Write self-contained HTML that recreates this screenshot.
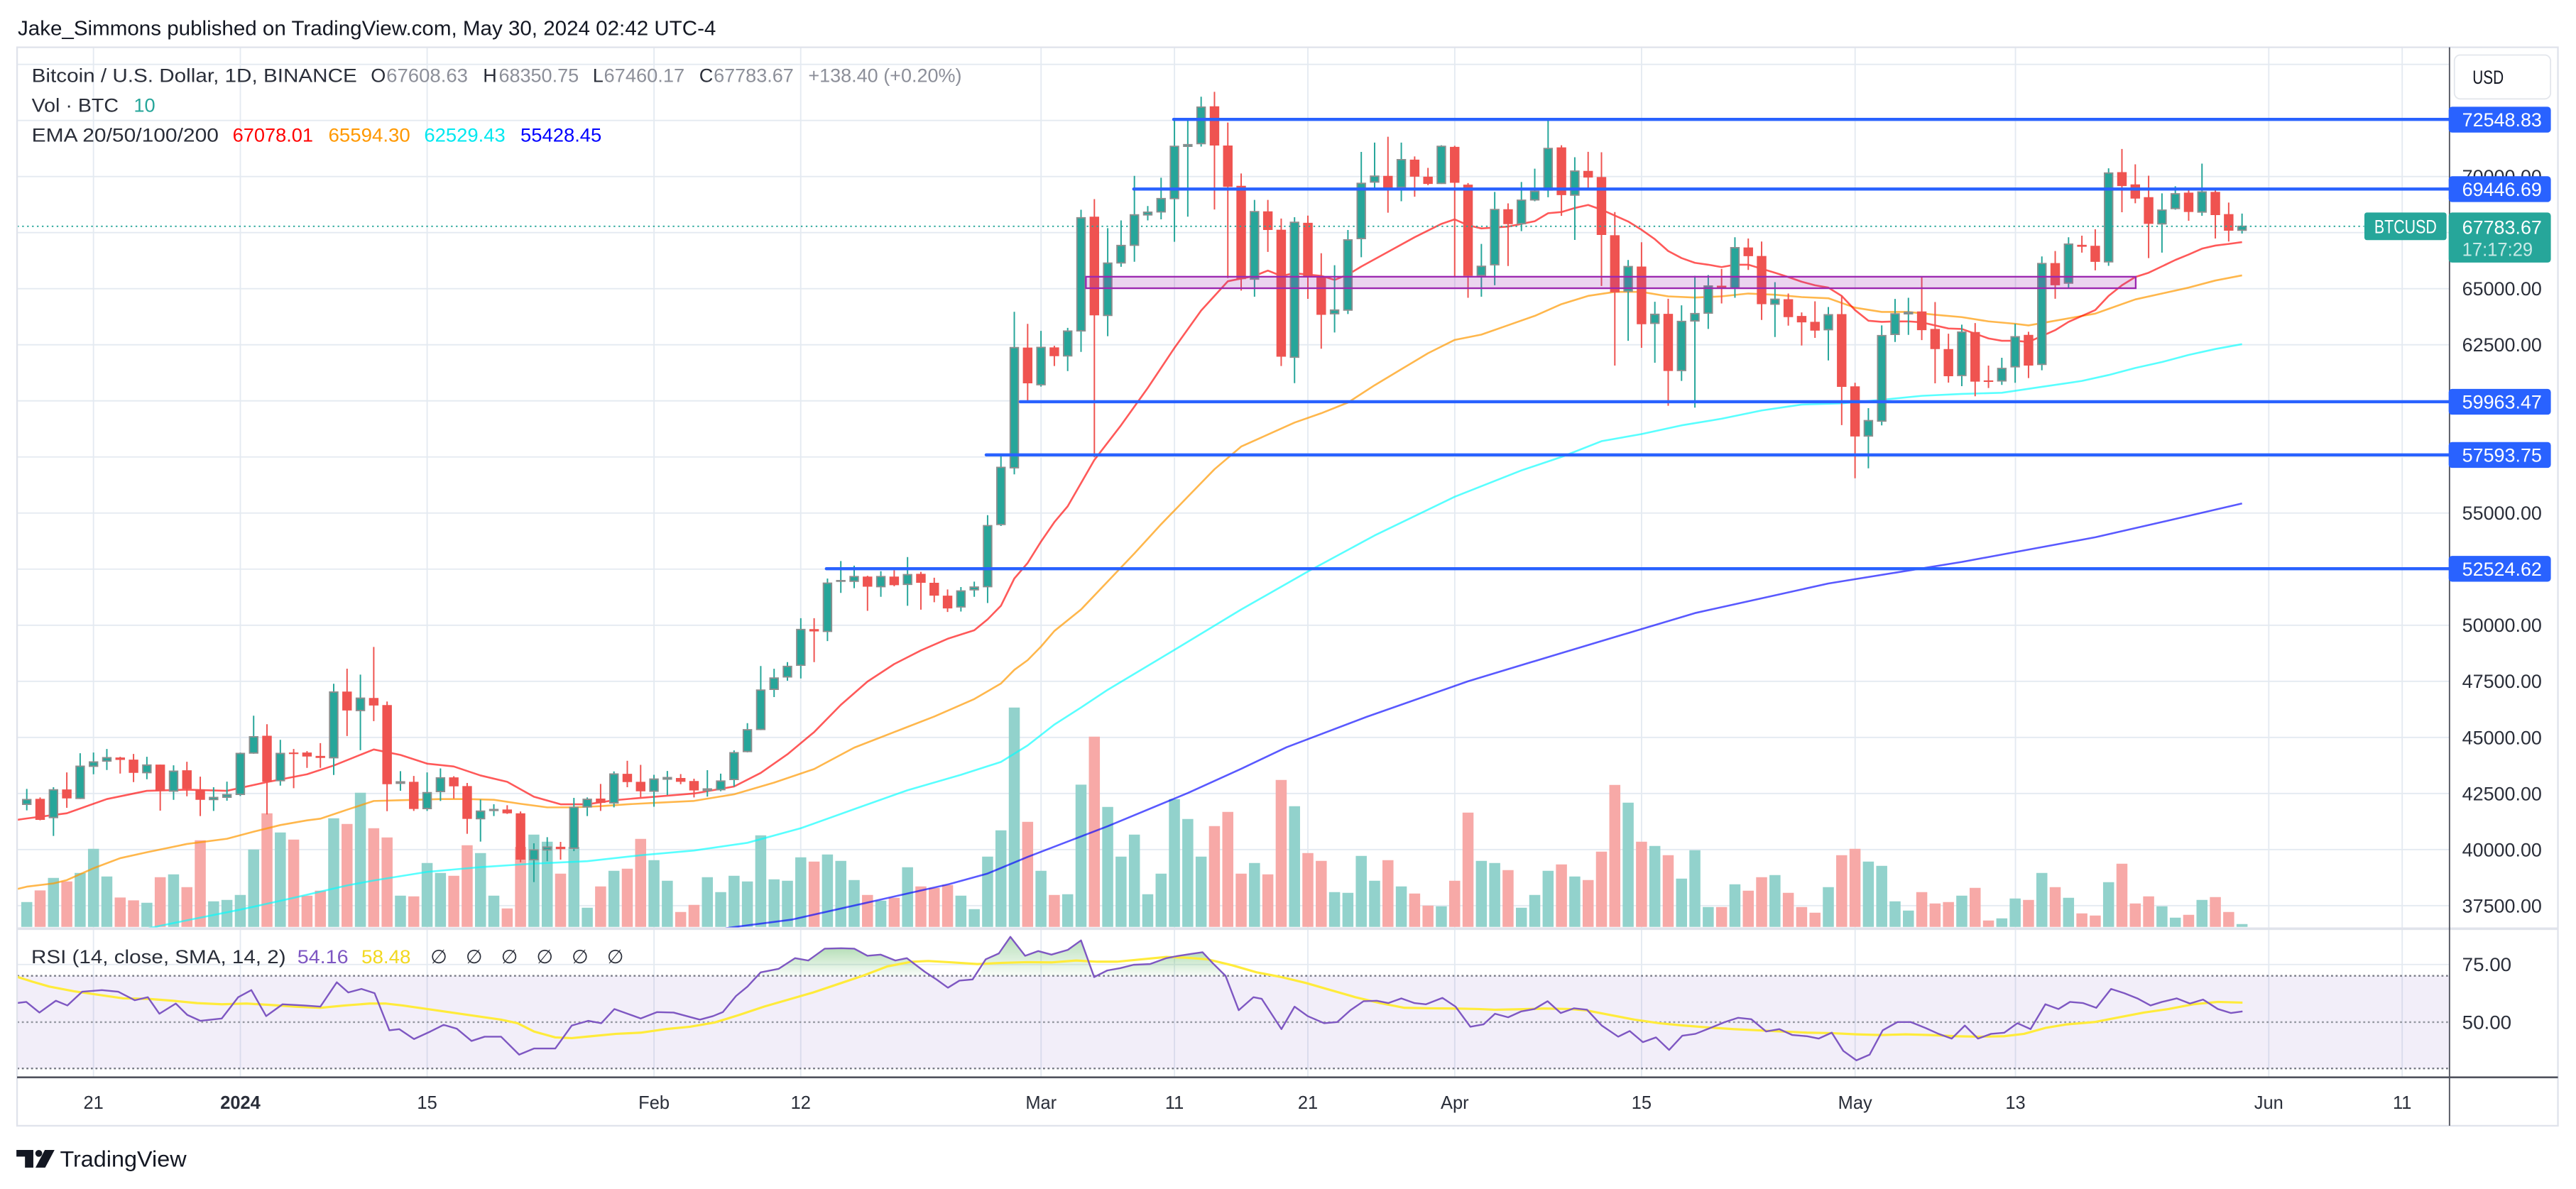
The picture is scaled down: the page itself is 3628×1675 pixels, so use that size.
<!DOCTYPE html>
<html><head><meta charset="utf-8">
<style>
html,body{margin:0;padding:0;background:#fff;overflow:hidden;}
svg{display:block;}
text{font-family:"Liberation Sans",Arial,sans-serif;}
</style></head>
<body>
<svg xmlns="http://www.w3.org/2000/svg" width="3628" height="1675" viewBox="0 0 1568 724" preserveAspectRatio="none">
<defs>
 <clipPath id="cm"><rect x="10.5" y="29" width="1480.5" height="536"/></clipPath>
 <clipPath id="cr"><rect x="10.5" y="566" width="1480.5" height="89.5"/></clipPath>
 <linearGradient id="gob" x1="0" y1="0" x2="0" y2="1">
  <stop offset="0" stop-color="#4caf50" stop-opacity="0.4"/>
  <stop offset="1" stop-color="#4caf50" stop-opacity="0.04"/>
 </linearGradient>
</defs>
<rect x="0" y="0" width="1568" height="724" fill="#fff"/>

<text x="10.8" y="21.3" font-size="12.2" fill="#131722" textLength="425" lengthAdjust="spacingAndGlyphs">Jake_Simmons published on TradingView.com, May 30, 2024 02:42 UTC-4</text>

<!-- grid -->
<path fill="none" stroke="#e4eaf1" stroke-width="0.8" d="M56.9 28.8V656M146.3 28.8V656M260 28.8V656M398.1 28.8V656M487.4 28.8V656M633.7 28.8V656M714.9 28.8V656M796.1 28.8V656M885.5 28.8V656M999.2 28.8V656M1129.2 28.8V656M1226.8 28.8V656M1381 28.8V656M1462.2 28.8V656M10.4 39.2H1491M10.4 73.35H1491M10.4 107.5H1491M10.4 141.65H1491M10.4 175.8H1491M10.4 209.95H1491M10.4 244.1H1491M10.4 278.25H1491M10.4 312.4H1491M10.4 346.55H1491M10.4 380.7H1491M10.4 414.85H1491M10.4 449H1491M10.4 483.15H1491M10.4 517.3H1491M10.4 551.45H1491M10.4 587.3H1491"/>

<!-- RSI band -->
<rect x="10.5" y="594.2" width="1480.5" height="56.4" fill="#7e57c2" fill-opacity="0.1"/>

<!-- volume -->
<g clip-path="url(#cm)">
<g transform="matrix(8.123 0 0 0.14407 16.3 414.85)" fill="none" stroke-width="0.825">
<path stroke="#92d2cc" d="M0 933V1038M2 831V1038M4 810V1038M5 708V1038M6 825V1038M9 936V1038M11 816V1038M14 930V1038M15 924V1038M16 903V1038M17 711V1038M19 639V1038M23 579V1038M25 471V1038M28 906V1038M30 768V1038M31 810V1038M34 726V1038M35 906V1038M38 648V1038M39 678V1038M41 700V1038M42 957V1038M44 801V1038M47 756V1038M48 843V1038M51 828V1038M52 891V1038M53 822V1038M54 846V1038M55 651V1038M56 837V1038M57 843V1038M58 744V1038M60 732V1038M61 759V1038M62 840V1038M64 927V1038M66 786V1038M70 906V1038M71 963V1038M72 741V1038M73 630V1038M74 111V1038M76 801V1038M78 900V1038M79 437V1038M81 531V1038M82 741V1038M83 648V1038M84 900V1038M85 813V1038M86 498V1038M87 582V1038M88 741V1038M92 768V1038M95 528V1038M98 891V1038M99 894V1038M100 738V1038M101 843V1038M103 867V1038M106 951V1038M109 759V1038M110 768V1038M112 957V1038M113 903V1038M114 801V1038M116 825V1038M120 513V1038M122 696V1038M124 834V1038M125 714V1038M126 954V1038M128 858V1038M131 819V1038M135 870V1038M138 762V1038M139 780V1038M140 930V1038M141 969V1038M145 906V1038M148 1002V1038M149 918V1038M151 810V1038M153 915V1038M156 849V1038M160 951V1038M161 999V1038M163 924V1038M166 1026V1038"/>
<path stroke="#f7a9a7" d="M1 884V1038M3 846V1038M7 914V1038M8 926V1038M10 828V1038M12 870V1038M13 672V1038M18 558V1038M20 669V1038M21 906V1038M22 885V1038M24 603V1038M26 621V1038M27 660V1038M29 909V1038M32 822V1038M33 693V1038M36 960V1038M37 700V1038M40 813V1038M43 867V1038M45 792V1038M46 666V1038M49 975V1038M50 945V1038M59 762V1038M63 903V1038M65 915V1038M67 867V1038M68 873V1038M69 861V1038M75 594V1038M77 903V1038M80 234V1038M89 612V1038M90 552V1038M91 813V1038M93 816V1038M94 417V1038M96 726V1038M97 759V1038M102 756V1038M104 897V1038M105 948V1038M107 843V1038M108 555V1038M111 798V1038M115 774V1038M117 840V1038M118 720V1038M119 438V1038M121 678V1038M123 735V1038M127 954V1038M129 885V1038M130 828V1038M132 894V1038M133 954V1038M134 978V1038M136 735V1038M137 708V1038M142 891V1038M143 939V1038M144 933V1038M146 873V1038M147 1011V1038M150 924V1038M152 870V1038M154 981V1038M155 990V1038M157 771V1038M158 939V1038M159 909V1038M162 987V1038M164 912V1038M165 975V1038"/>
</g>
</g>

<!-- EMAs -->
<g clip-path="url(#cm)">
<g transform="matrix(8.123 0 0 -0.01366 16.3 1063.7)" fill="none" stroke-linejoin="round">
<polyline vector-effect="non-scaling-stroke" stroke="#0000ff" stroke-opacity="0.65" stroke-width="2.6" points="-1 32100 53.1 36552 57.3 36874 63.2 37665 69.1 38456 72 38931 75 39671 81 41040 87 42519 91 43600 94.4 44560 100.4 45915 108 47500 115 48760 120 49650 125 50540 130 51200 135 51860 140 52340 145 52820 150 53370 155 53920 160 54600 166 55428"/>
<polyline vector-effect="non-scaling-stroke" stroke="#00ffff" stroke-opacity="0.65" stroke-width="2.6" points="-1 35200 9.6 36552 12 36845 16 37321 20 37848 24 38400 26 38620 30 39005 34 39217 38 39372 42 39481 46 39745 50 39957 54 40300 58 40950 62 41800 66 42643 70 43331 73 43905 75 44640 77 45570 79 46332 81 47122 86 48900 91 50700 96 52394 101 54000 107 55727 112 56900 115 57500 118 58203 121 58521 124 58909 127 59204 130 59573 133 59836 136 59889 139 60047 142 60225 145 60310 148 60362 151 60626 154 60889 156 61152 158 61468 160 61731 162 62047 164 62311 166 62529"/>
<polyline vector-effect="non-scaling-stroke" stroke="#ff9800" stroke-opacity="0.7" stroke-width="2.6" points="-1 38200 0 38345 2 38490 3 38638 5 39166 7 39616 9 39880 12 40248 15 40480 17 40796 19 41091 21 41301 22 41375 24 41775 26 42165 28 42197 31 42249 33 42249 35 42218 37 42039 39 41880 41 41880 43 41933 45 42017 47 42081 50 42168 53 42463 56 42983 59 43589 62 44542 65 45236 68 45929 71 46709 73 47402 74 48008 75 48442 76 49048 77 49741 79 50700 81 51950 83 53200 85 54500 87 55727 89 56952 91 57963 93 58498 95 59033 97 59449 99 59924 101 60697 103 61410 105 62123 107 62718 109 62955 111 63372 113 63788 115 64311 117 64680 119 64859 121 64859 123 64659 125 64606 127 64659 129 64785 131 64733 133 64627 135 64575 137 64154 139 63964 141 63964 143 63838 145 63733 147 63543 149 63437 150 63364 152 63574 154 63785 155 63890 156 64101 158 64522 160 64785 162 65049 164 65365 166 65594"/>
<polyline vector-effect="non-scaling-stroke" stroke="#ff0000" stroke-opacity="0.65" stroke-width="2.6" points="-1 41300 0 41386 3 41617 6 42250 9 42618 12 42670 15 42618 18 43007 21 43355 23 43745 26 44461 28 44218 30 43829 32 43702 34 43302 36 43018 38 42355 40 42017 42 42017 44 42197 46 42302 48 42400 50 42498 53 42809 55 43416 57 44246 59 45236 61 46449 63 47488 65 48268 67 48875 69 49395 71 49776 72 50261 73 50868 74 52081 75 52774 76 53727 77 54594 78 55300 80 57368 82 58914 84 60578 86 62361 88 64025 90 65333 92 65571 93 65809 94 65571 95 65690 97 65571 98 65393 99 65630 100 65987 102 66641 104 67295 106 67889 107 68091 108 67830 109 67687 111 67770 113 68008 114 68365 115 68418 116 68598 117 68734 118 68524 119 68260 120 67997 121 67629 122 67207 123 66681 124 66365 125 66154 126 66070 127 65965 128 66070 129 66070 130 65891 131 65712 132 65522 133 65312 134 65154 135 65048 136 64680 137 64048 138 63574 139 63522 140 63543 141 63543 142 63501 143 63364 144 63227 145 63206 146 62995 147 62784 148 62679 149 62679 150 62627 151 62890 152 63153 153 63522 154 63785 155 64048 156 64680 157 65154 158 65522 159 65712 160 65996 161 66281 162 66523 163 66786 164 66923 165 66997 166 67078"/>
</g>
</g>

<!-- candles -->
<g clip-path="url(#cm)">
<g transform="matrix(8.123 0 0 -0.01366 16.3 1063.7)" fill="none">
<path stroke="#26a69a" stroke-width="0.105" d="M0 42702V41744M2 42776V40606M4 44292V42250M5 44324V43355M6 44482V43544M9 44134V43134M11 43755V42218M14 42776V41722M15 43028V42176M16 44324V42386M17 45966V44271M19 44892V42850M23 47388V43323M25 47799V44429M28 43492V42618M30 43439V41720M31 43618V42165M34 42228V40353M35 42017V41491M38 40280V38550M39 40550V39480M41 42302V39932M42 42323V41491M44 43481V41880M47 43330V41908M48 43503V42429M51 43538V42359M52 43382V42601M53 44421V42809M54 45633V44334M55 48182V45321M56 48060V46795M57 48355V47523M58 50314V47627M60 52081V49291M61 52861V51440M62 52653V51648M64 52410V51266M66 53038V50867M70 51700V50608M71 51942V51266M72 54906V50989M73 57592V54421M74 63969V56725M76 63122V60637M78 63253V61327M79 68519V62183M81 67699V62884M82 68044V65975M83 70029V66201M84 68686V68044M85 69946V68091M86 72585V67093M87 72585V68210M88 73560V71336M92 68959V64643M95 68186V60792M98 66046V63051M99 67616V63871M100 71099V66403M101 71515V69375M103 71515V68899M106 71396V69672M109 66998V64643M110 69316V65155M112 69756V67568M113 70350V68900M114 72525V69078M116 70861V67176M120 66281V62679M122 64417V61700M124 64259V60889M125 65575V59699M126 65607V63206M128 67292V64596M131 65291V62848M135 64185V61805M138 59677V56993M139 63364V58909M140 64543V62627M141 64596V62943M145 63396V60657M148 61921V60710M149 63438V60805M151 66439V61363M153 67292V65049M156 70367V66018M160 69251V66607M161 69566V68524M163 70577V68250M166 68351V67460"/>
<path stroke="#ef5350" stroke-width="0.105" d="M1 42323V41301M3 43439V41859M7 44134V43386M8 44261V43007M10 43787V41733M12 43913V42376M13 43249V41491M18 45587V41565M20 44482V42734M21 44387V43639M22 44745V43639M24 48062V45061M26 49031V45724M27 46598V41712M29 43281V41720M32 43270V42270M33 42966V40701M36 41975V41586M37 41700V39430M40 40340V39550M43 42923V41722M45 43955V42776M46 43776V42333M49 43365V42914M50 43157V42324M59 50314V48355M63 52203V50642M65 52445V51735M67 52376V50694M68 52116V51023M69 51596V50590M75 63432V59999M77 62456V61552M80 68995V57487M89 73774V68531M90 72406V65476M91 70136V64917M93 68959V66641M94 68127V61552M96 68258V64548M97 66581V62325M102 71776V68388M104 70897V69102M105 70386V69613M107 71372V65535M108 69708V64596M111 68804V66010M115 71396V68246M117 71104V69472M118 71083V65122M119 68418V61573M121 67071V62363M123 64553V59783M127 65881V64343M129 67239V65839M130 67102V63606M132 64785V63353M133 63943V62468M134 64438V62806M136 64701V58919M137 60805V56550M142 65554V62710M143 64406V60784M144 62995V60815M146 63469V60204M147 61573V60573M150 63080V61015M152 66681V64553M154 67365V66607M155 67650V65818M157 71230V68408M158 70546V68808M159 70040V66365M162 69472V68029M164 69440V67239M165 68840V67102"/>
<path stroke="#8e8e8e" stroke-width="0.714" d="M0 41988V42257M2 41399V42689M4 42252V43742M5 43684V43931M6 43916V44121M9 43399V43794M11 42578V43521M14 42199V42352M15 42304V42478M16 42431V44311M17 44274V45058M19 43042V44311M23 44063V47049M25 46169V46775M28 42926V43047M30 41799V42563M31 42557V43226M34 41345V41741M35 41714V41814M38 39521V40014M39 39956V40140M41 40030V41909M42 41872V42268M44 42052V43394M47 42572V43168M48 43110V43237M51 42607V42729M52 42641V43082M53 43093V44346M54 44340V45368M55 45327V47136M56 47113V47673M57 47667V48193M58 48187V49840M60 49695V51902M61 51931V52019M62 51931V52197M64 51688V52197M66 51792V52283M70 50787V51555M71 51549V51729M72 51688V54467M73 54461V57066M74 56991V62404M76 60691V62414M78 61976V63139M79 63093V68191M81 63782V66170M82 66124V66955M83 66909V68322M84 68264V68441M85 68395V69047M86 68989V71377M87 71319V71449M88 71438V73125M92 65399V68465M95 61916V67989M98 63854V64078M99 64020V67205M100 67207V69725M101 69726V70046M103 69489V70783M106 69667V71377M109 65566V66028M110 66041V68560M112 67872V68976M113 68930V69368M114 69370V71282M116 69144V70272M120 64862V66015M122 63429V63888M124 61323V63572M125 63535V63919M126 63882V65151M128 64998V66857M131 64282V64561M135 63145V63867M138 58406V59148M139 59069V62940M140 62935V63909M141 63851V63979M145 61102V63098M148 60860V61476M149 61491V62887M151 61597V66152M153 65220V67015M156 66168V70185M160 67863V68532M161 68547V69259M163 68390V69343M166 67579V67813"/>
<path stroke="#26a69a" stroke-width="0.517" d="M0 42046V42199M2 41457V42631M4 42310V43684M5 43742V43873M6 43974V44063M9 43457V43736M11 42636V43463M14 42257V42294M15 42362V42420M16 42489V44253M17 44332V45000M19 43100V44253M23 44121V46991M25 46227V46717M30 41857V42505M31 42615V43168M34 41403V41683M38 39579V39956M39 40014V40082M41 40088V41851M42 41930V42210M44 42110V43336M47 42630V43110M48 43168V43179M52 42699V43024M53 43151V44288M54 44398V45310M55 45385V47078M56 47171V47615M57 47725V48135M58 48245V49782M60 49753V51844M62 51989V52139M64 51746V52139M66 51850V52225M70 50845V51497M71 51607V51671M72 51746V54409M73 54519V57008M74 57049V62346M76 60749V62356M78 62034V63081M79 63151V68133M81 63840V66112M82 66182V66897M83 66967V68264M84 68322V68383M85 68453V68989M86 69047V71319M87 71377V71391M88 71496V73067M92 65457V68407M95 61974V67931M98 63912V64020M99 64078V67147M100 67265V69667M101 69784V69988M103 69547V70725M106 69725V71319M109 65624V65970M110 66099V68502M112 67930V68918M113 68988V69310M114 69428V71224M116 69202V70214M120 64920V65957M122 63487V63830M124 61381V63514M125 63593V63861M126 63940V65093M128 65056V66799M131 64340V64503M135 63203V63809M138 58464V59090M139 59127V62882M140 62993V63851M141 63909V63921M145 61160V63040M148 60918V61418M149 61549V62829M151 61655V66094M153 65278V66957M156 66226V70127M160 67921V68474M161 68605V69201M163 68448V69285M166 67637V67755"/>
<path stroke="#ef5350" stroke-width="0.714" d="M1 42260V41322M3 42681V42281M7 44103V43997M8 44008V43418M10 43787V42607M12 43534V42702M13 42670V42218M18 45071V43018M20 44326V44259M21 44324V44145M22 44176V44082M24 47041V46198M26 46756V46419M27 46440V42912M29 43018V41807M32 43218V42818M33 42829V41364M36 41785V41617M37 41617V39550M40 40122V40017M43 42270V42081M45 43376V43007M46 43018V42597M49 43191V43018M50 43053V42636M59 49828V49724M63 52168V51717M65 52168V51786M67 52289V51890M68 51890V51318M69 51318V50746M75 62375V60781M77 62385V61993M80 68210V63811M89 73132V71384M90 71384V69541M91 69589V65428M93 68448V67616M94 67628V61969M96 67937V65512M97 65535V63836M102 70029V69494M104 70754V69993M105 69993V69672M107 71324V69720M108 69637V65571M111 68543V67877M115 71301V69173M117 70251V69956M118 69977V67397M119 67386V64838M121 65986V63416M123 63880V61331M127 65133V65027M129 66839V66449M130 66460V64311M132 64532V63732M133 63785V63501M134 63522V63132M136 63869V60626M137 60647V58414M142 63985V63153M143 63206V62311M144 62311V61099M146 63069V60858M147 60912V60846M150 62943V61573M152 66144V65154M154 66955V66871M155 66913V66197M157 70198V69577M158 69651V69019M159 69082V67892M162 69282V68419M164 69314V68282M165 68324V67587"/>
</g>
</g>

<!-- drawings -->
<rect x="661" y="168.5" width="639" height="7" fill="#9c27b0" fill-opacity="0.2" stroke="#9c27b0" stroke-width="1"/>
<g stroke="#2962ff" stroke-width="1.9" stroke-linecap="round">
 <line x1="714.4" y1="72.7" x2="1491" y2="72.7"/>
 <line x1="690.1" y1="115.1" x2="1491" y2="115.1"/>
 <line x1="621" y1="244.6" x2="1491" y2="244.6"/>
 <line x1="600.3" y1="277.0" x2="1491" y2="277.0"/>
 <line x1="503" y1="346.3" x2="1491" y2="346.3"/>
</g>
<line x1="10.5" y1="137.8" x2="1439" y2="137.8" stroke="#26a69a" stroke-width="0.8" stroke-dasharray="1 2"/>

<!-- legend -->
<g font-size="11.7">
 <text x="19.3" y="50" fill="#2a2e39" textLength="198" lengthAdjust="spacingAndGlyphs">Bitcoin / U.S. Dollar, 1D, BINANCE</text>
 <text x="225.7" y="50" fill="#2a2e39">O</text>
 <text x="235.2" y="50" fill="#8c8f99" textLength="49.6" lengthAdjust="spacingAndGlyphs">67608.63</text>
 <text x="294" y="50" fill="#2a2e39">H</text>
 <text x="303.6" y="50" fill="#8c8f99" textLength="48.7" lengthAdjust="spacingAndGlyphs">68350.75</text>
 <text x="360.8" y="50" fill="#2a2e39">L</text>
 <text x="367.6" y="50" fill="#8c8f99" textLength="49.1" lengthAdjust="spacingAndGlyphs">67460.17</text>
 <text x="425.6" y="50" fill="#2a2e39">C</text>
 <text x="434.4" y="50" fill="#8c8f99" textLength="48.7" lengthAdjust="spacingAndGlyphs">67783.67</text>
 <text x="492" y="50" fill="#8c8f99" textLength="93.4" lengthAdjust="spacingAndGlyphs">+138.40 (+0.20%)</text>
 <text x="19.3" y="68" fill="#2a2e39" textLength="52.9" lengthAdjust="spacingAndGlyphs">Vol · BTC</text>
 <text x="81.4" y="68" fill="#26a69a" textLength="13.1" lengthAdjust="spacingAndGlyphs">10</text>
 <text x="19.3" y="86.3" fill="#2a2e39" textLength="113.8" lengthAdjust="spacingAndGlyphs">EMA 20/50/100/200</text>
 <text x="141.6" y="86.3" fill="#ff0000" textLength="49" lengthAdjust="spacingAndGlyphs">67078.01</text>
 <text x="199.9" y="86.3" fill="#ff9800" textLength="49.8" lengthAdjust="spacingAndGlyphs">65594.30</text>
 <text x="258.2" y="86.3" fill="#00e8f0" textLength="49.4" lengthAdjust="spacingAndGlyphs">62529.43</text>
 <text x="316.8" y="86.3" fill="#0000ff" textLength="49.4" lengthAdjust="spacingAndGlyphs">55428.45</text>
</g>

<!-- RSI -->
<line x1="10.5" y1="594.2" x2="1491" y2="594.2" stroke="#787b86" stroke-width="1" stroke-dasharray="1.2 1.6"/>
<line x1="10.5" y1="622.4" x2="1491" y2="622.4" stroke="#9598a1" stroke-width="1" stroke-dasharray="1.2 1.6"/>
<line x1="10.5" y1="650.6" x2="1491" y2="650.6" stroke="#787b86" stroke-width="1" stroke-dasharray="1.2 1.6"/>
<g clip-path="url(#cr)">
<g transform="matrix(1 0 0 0.14406 0 557.5)" stroke-linejoin="round">
<polygon fill="url(#gob)" points="461,255 463,240 474,225 484,180 492,190 502,140 512,138 520,140 528,170 536,165 545,190 552,180 563,238 566,255"/>
<polygon fill="url(#gob)" points="596,255 600,185 608,160 615,90 624,170 632,150 640,165 650,145 658,105 665,255"/>
<polygon fill="url(#gob)" points="667,255 674,232 682,222 690,208 700,205 710,180 716,172 725,162 732,155 738,200 746,255"/>
<polyline fill="none" vector-effect="non-scaling-stroke" stroke="#ffeb3b" stroke-width="3.2" points="10,258 20,280 30,300 45,320 60,335 75,350 90,352 105,360 120,370 135,375 150,372 165,378 180,385 195,390 210,380 225,372 235,372 245,380 260,395 275,410 290,425 305,440 315,455 325,490 338,515 348,518 360,510 375,500 390,495 405,480 420,470 435,452 450,420 465,385 480,355 495,325 510,290 525,255 540,215 555,195 565,192 580,198 595,205 610,200 625,197 640,198 655,190 668,195 680,195 695,185 710,175 722,178 735,185 750,210 765,240 780,260 795,285 810,315 825,345 840,370 855,390 870,392 885,393 900,395 910,398 925,396 940,393 955,395 965,400 980,420 995,440 1010,455 1025,465 1040,473 1055,480 1070,485 1085,490 1100,495 1115,497 1130,502 1145,505 1160,502 1175,505 1190,510 1205,512 1220,510 1232,500 1245,475 1258,460 1275,450 1290,430 1305,410 1320,395 1335,375 1350,365 1365,368"/>
<polyline fill="none" vector-effect="non-scaling-stroke" stroke="#7e57c2" stroke-width="2.4" points="10,370 16,365 24,410 34,360 41,380 50,322 62,315 72,322 82,358 90,345 97,415 107,372 114,420 122,445 135,435 145,345 153,315 162,425 172,375 185,380 195,385 205,282 212,325 220,310 228,328 237,485 243,480 252,522 262,490 270,462 278,478 287,530 295,512 305,512 316,588 325,562 338,562 348,465 358,445 366,455 374,395 382,415 390,435 400,408 410,410 418,425 426,440 434,425 440,408 448,340 455,300 463,240 474,225 484,180 492,190 502,140 512,138 520,140 528,170 536,165 545,190 552,180 563,238 570,270 577,305 584,275 592,270 600,185 608,160 615,90 624,170 632,150 640,165 650,145 658,105 666,260 674,232 682,222 690,208 700,205 710,180 716,172 725,162 732,155 738,200 746,255 754,400 763,345 768,352 780,480 788,385 796,425 806,455 814,450 822,400 830,362 838,360 845,370 853,350 861,370 868,375 878,348 886,385 895,470 903,460 910,415 918,430 926,405 934,395 942,362 950,412 958,392 966,398 975,465 985,512 992,488 1000,535 1008,515 1016,568 1024,508 1032,500 1040,478 1050,450 1058,432 1066,438 1075,490 1083,480 1091,505 1100,510 1107,520 1115,495 1122,572 1130,612 1138,588 1146,485 1155,450 1163,450 1172,475 1180,500 1188,520 1196,465 1204,520 1212,500 1220,495 1228,455 1236,480 1245,375 1253,395 1260,365 1268,370 1276,390 1285,310 1293,328 1301,350 1309,380 1316,365 1325,350 1333,372 1341,355 1350,395 1358,412 1365,405"/>
</g>
</g>
<g font-size="11.7">
 <text x="19" y="586.5" fill="#2a2e39" textLength="155" lengthAdjust="spacingAndGlyphs">RSI (14, close, SMA, 14, 2)</text>
 <text x="181" y="586.5" fill="#7e57c2" textLength="31" lengthAdjust="spacingAndGlyphs">54.16</text>
 <text x="220" y="586.5" fill="#f2d820" textLength="30" lengthAdjust="spacingAndGlyphs">58.48</text>
 <text x="262" y="586.5" fill="#2a2e39">∅</text>
 <text x="283.5" y="586.5" fill="#2a2e39">∅</text>
 <text x="305" y="586.5" fill="#2a2e39">∅</text>
 <text x="326.5" y="586.5" fill="#2a2e39">∅</text>
 <text x="348" y="586.5" fill="#2a2e39">∅</text>
 <text x="369.5" y="586.5" fill="#2a2e39">∅</text>
</g>

<!-- frame & separators -->
<rect x="10.4" y="28.8" width="1546.6" height="656.7" fill="none" stroke="#e0e3eb" stroke-width="1"/>
<line x1="10.4" y1="565.5" x2="1557" y2="565.5" stroke="#e0e3eb" stroke-width="1.6"/>
<line x1="10.4" y1="656" x2="1557" y2="656" stroke="#50535e" stroke-width="1.1"/>
<line x1="1491" y1="28.8" x2="1491" y2="685.5" stroke="#50535e" stroke-width="0.8"/>

<!-- price axis -->
<g font-size="11.5" fill="#2a2e39">
 <text x="1498.7" y="111.6" textLength="48.5" lengthAdjust="spacingAndGlyphs">70000.00</text>
 <text x="1498.7" y="179.9" textLength="48.5" lengthAdjust="spacingAndGlyphs">65000.00</text>
 <text x="1498.7" y="214" textLength="48.5" lengthAdjust="spacingAndGlyphs">62500.00</text>
 <text x="1498.7" y="316.5" textLength="48.5" lengthAdjust="spacingAndGlyphs">55000.00</text>
 <text x="1498.7" y="384.8" textLength="48.5" lengthAdjust="spacingAndGlyphs">50000.00</text>
 <text x="1498.7" y="418.9" textLength="48.5" lengthAdjust="spacingAndGlyphs">47500.00</text>
 <text x="1498.7" y="453.1" textLength="48.5" lengthAdjust="spacingAndGlyphs">45000.00</text>
 <text x="1498.7" y="487.3" textLength="48.5" lengthAdjust="spacingAndGlyphs">42500.00</text>
 <text x="1498.7" y="521.4" textLength="48.5" lengthAdjust="spacingAndGlyphs">40000.00</text>
 <text x="1498.7" y="555.6" textLength="48.5" lengthAdjust="spacingAndGlyphs">37500.00</text>
 <text x="1498.7" y="591.4" textLength="30" lengthAdjust="spacingAndGlyphs">75.00</text>
 <text x="1498.7" y="626.5" textLength="30" lengthAdjust="spacingAndGlyphs">50.00</text>
</g>
<rect x="1494" y="33.5" width="58.5" height="26.7" rx="3.5" fill="#fff" stroke="#e3e6ec" stroke-width="0.8"/>
<text x="1505" y="51" font-size="11.5" fill="#131722" textLength="19" lengthAdjust="spacingAndGlyphs">USD</text>

<g font-size="11.5" fill="#fff">
 <rect x="1490.5" y="65" width="62.2" height="15.7" rx="2" fill="#2962ff"/>
 <text x="1498.7" y="77" textLength="48.5" lengthAdjust="spacingAndGlyphs">72548.83</text>
 <rect x="1490.5" y="107.3" width="62.2" height="15.7" rx="2" fill="#2962ff"/>
 <text x="1498.7" y="119.3" textLength="48.5" lengthAdjust="spacingAndGlyphs">69446.69</text>
 <rect x="1490.5" y="236.8" width="62.2" height="15.7" rx="2" fill="#2962ff"/>
 <text x="1498.7" y="248.8" textLength="48.5" lengthAdjust="spacingAndGlyphs">59963.47</text>
 <rect x="1490.5" y="269.2" width="62.2" height="15.7" rx="2" fill="#2962ff"/>
 <text x="1498.7" y="281.2" textLength="48.5" lengthAdjust="spacingAndGlyphs">57593.75</text>
 <rect x="1490.5" y="338.5" width="62.2" height="15.7" rx="2" fill="#2962ff"/>
 <text x="1498.7" y="350.5" textLength="48.5" lengthAdjust="spacingAndGlyphs">52524.62</text>
 <rect x="1490.5" y="129.4" width="62.2" height="30.5" rx="2" fill="#26a69a"/>
 <text x="1498.7" y="142.4" textLength="48.5" lengthAdjust="spacingAndGlyphs">67783.67</text>
 <text x="1498.7" y="155.8" fill-opacity="0.75" textLength="43" lengthAdjust="spacingAndGlyphs">17:17:29</text>
 <rect x="1439.2" y="129.4" width="50" height="16.8" rx="1.5" fill="#26a69a"/>
 <text x="1464.2" y="142" text-anchor="middle" textLength="38" lengthAdjust="spacingAndGlyphs">BTCUSD</text>
</g>

<!-- time axis -->
<g font-size="11" fill="#2a2e39" text-anchor="middle">
 <text x="56.9" y="675.2">21</text>
 <text x="146.3" y="675.2" font-weight="bold">2024</text>
 <text x="260" y="675.2">15</text>
 <text x="398.1" y="675.2">Feb</text>
 <text x="487.4" y="675.2">12</text>
 <text x="633.7" y="675.2">Mar</text>
 <text x="714.9" y="675.2">11</text>
 <text x="796.1" y="675.2">21</text>
 <text x="885.5" y="675.2">Apr</text>
 <text x="999.2" y="675.2">15</text>
 <text x="1129.2" y="675.2">May</text>
 <text x="1226.8" y="675.2">13</text>
 <text x="1381" y="675.2">Jun</text>
 <text x="1462.2" y="675.2">11</text>
</g>

<!-- footer -->
<g fill="#131722">
 <path d="M10 700.2 H20.3 V711 H15.2 V704.3 H10 Z"/>
 <circle cx="23.6" cy="702.3" r="2.1"/>
 <path d="M21.6 711 L27.3 700.2 H33.2 L27.5 711 Z"/>
</g>
<text x="36.5" y="710.3" font-size="13.5" fill="#131722" textLength="77" lengthAdjust="spacingAndGlyphs">TradingView</text>
</svg>
</body>
</html>
